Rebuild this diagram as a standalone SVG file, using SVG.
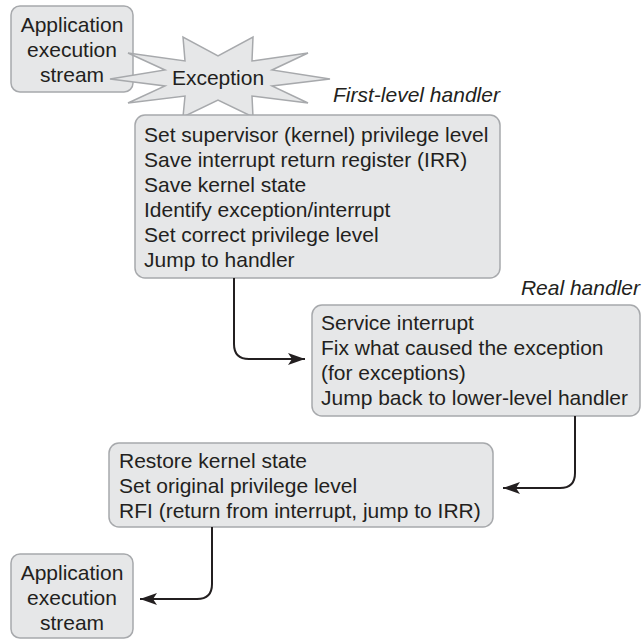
<svg xmlns="http://www.w3.org/2000/svg" width="642" height="639" viewBox="0 0 642 639">
<defs>
<style>
.box{fill:#e6e7e8;stroke:#a7a9ac;stroke-width:1.5}
.star{fill:#e6e7e8;stroke:#a7a9ac;stroke-width:1.5;stroke-linejoin:miter}
text{font-family:"Liberation Sans",Arial,sans-serif;font-size:21px;fill:#231f20}
.c{text-anchor:middle}
.it{font-style:italic}
.conn{fill:none;stroke:#231f20;stroke-width:2}
</style>
<marker id="ah" markerWidth="18" markerHeight="12" refX="17" refY="6" orient="auto" markerUnits="userSpaceOnUse">
<path d="M0,0 L17,6 L0,12 L4,6 Z" fill="#231f20"/>
</marker>
</defs>
<rect width="642" height="639" fill="#ffffff"/>
<g id="app-start">
<rect class="box" x="11" y="6" width="122" height="86" rx="9"/>
<text class="c" x="72" y="32">Application</text>
<text class="c" x="72" y="57">execution</text>
<text class="c" x="72" y="82">stream</text>
</g>
<g id="exception">
<polygon class="star" points="110,79 165,70 128,53 185,61 183,37 218,56 253,37 252,61 308,53 272,70 330,79 272,86 308,103 252,96 253,117 218,100 183,117 185,96 128,103 165,86"/>
<text class="c" x="218" y="85">Exception</text>
</g>
<g id="first-level">
<text class="it" x="333" y="102">First-level handler</text>
<rect class="box" x="135" y="115" width="365" height="163" rx="10"/>
<text x="144" y="142">Set supervisor (kernel) privilege level</text>
<text x="144" y="167">Save interrupt return register (IRR)</text>
<text x="144" y="192">Save kernel state</text>
<text x="144" y="217">Identify exception/interrupt</text>
<text x="144" y="242">Set correct privilege level</text>
<text x="144" y="267">Jump to handler</text>
</g>
<g id="real-handler">
<text class="it" x="640" y="295" text-anchor="end">Real handler</text>
<rect class="box" x="312" y="305" width="328" height="111" rx="10"/>
<text x="321" y="330">Service interrupt</text>
<text x="321" y="355">Fix what caused the exception</text>
<text x="321" y="380">(for exceptions)</text>
<text x="321" y="405">Jump back to lower-level handler</text>
</g>
<g id="restore">
<rect class="box" x="109" y="443" width="384" height="84" rx="10"/>
<text x="119" y="468">Restore kernel state</text>
<text x="119" y="493">Set original privilege level</text>
<text x="119" y="518">RFI (return from interrupt, jump to IRR)</text>
</g>
<g id="app-end">
<rect class="box" x="11" y="554" width="122" height="84" rx="9"/>
<text class="c" x="72" y="580">Application</text>
<text class="c" x="72" y="605">execution</text>
<text class="c" x="72" y="630">stream</text>
</g>
<g id="connectors">
<path class="conn" d="M234,278 V344 Q234,359 249,359 H305" marker-end="url(#ah)"/>
<path class="conn" d="M575,416 V473 Q575,488 560,488 H503" marker-end="url(#ah)"/>
<path class="conn" d="M212,527 V584 Q212,599 197,599 H140" marker-end="url(#ah)"/>
</g>
</svg>
